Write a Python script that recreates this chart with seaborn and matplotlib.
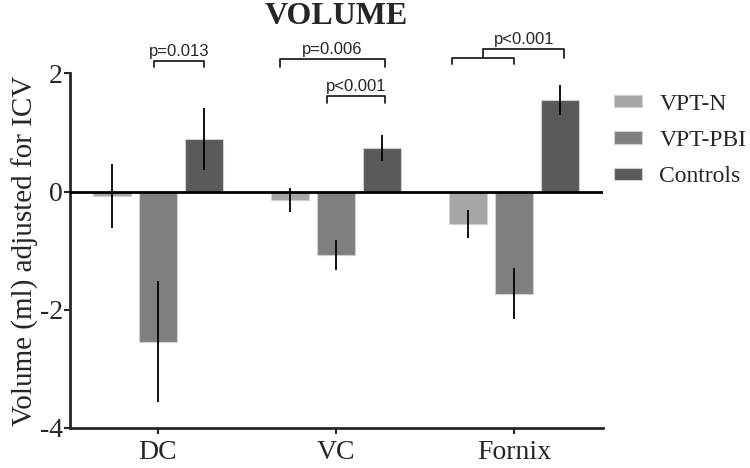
import pandas as pd
import matplotlib.pyplot as plt
import seaborn as sns

sns.set_style('ticks')
plt.rcParams['font.family'] = ['Liberation Serif', 'DejaVu Serif']

# values
regions = ["DC", "VC", "Fornix"]
groups = ["VPT-N", "VPT-PBI", "Controls"]
vpt_n = [-0.07, -0.14, -0.55]
vpt_pbi = [-2.54, -1.07, -1.73]
controls = [0.89, 0.74, 1.55]
err_vpt_n = [0.54, 0.20, 0.24]
err_vpt_pbi = [1.02, 0.26, 0.43]
err_controls = [0.53, 0.22, 0.26]
colors = ['#a6a6a6', '#7f7f7f', '#5a5a5a']

means = {"VPT-N": vpt_n, "VPT-PBI": vpt_pbi, "Controls": controls}
errs = {"VPT-N": err_vpt_n, "VPT-PBI": err_vpt_pbi, "Controls": err_controls}

rows = []
for g in groups:
    for r, v in zip(regions, means[g]):
        rows.append({"region": r, "group": g, "value": v})
df = pd.DataFrame(rows)

fig = plt.figure(figsize=(7.5, 4.68), dpi=100)
ax = fig.add_axes([0.0933, 0.0855, 0.711, 0.7575])

sns.barplot(data=df, x="region", y="value", hue="group", hue_order=groups,
            order=regions, palette=colors, width=0.78, gap=0.18,
            errorbar=None, edgecolor='#d0d0d0', linewidth=0.8, ax=ax)

# error bars at the bar centres
for cont, g in zip(ax.containers, groups):
    xs = [p.get_x() + p.get_width() / 2 for p in cont.patches]
    ax.errorbar(xs, means[g], yerr=errs[g], fmt='none', ecolor='black',
                elinewidth=1.3, capsize=0, zorder=5)

ax.axhline(0, color='black', lw=2, zorder=4)
ax.set_xlim(-0.494, 2.5)
ax.set_ylim(-4, 2)
ax.set_yticks([2, 0, -2, -4])
ax.set_yticklabels(['2', '0', '-2', '-4'])
ax.set_xlabel('')
ax.set_ylabel('Volume (ml) adjusted for ICV', fontsize=21, labelpad=1)
ax.tick_params(axis='both', labelsize=20, length=4, width=1.5)
ax.tick_params(axis='y', pad=1)
ax.tick_params(axis='x', pad=5)
sns.despine(ax=ax)
for s in ['left', 'bottom']:
    ax.spines[s].set_linewidth(2)

fig.text(0.448, 0.965, 'VOLUME', ha='center', va='center', fontsize=23,
         fontweight='bold')

ax.legend(loc='upper left', bbox_to_anchor=(0.819, 0.8),
          bbox_transform=fig.transFigure, frameon=False, fontsize=17,
          handlelength=1.19, handleheight=0.42, handletextpad=0.72,
          labelspacing=0.65, borderpad=0, borderaxespad=0)

# significance brackets
pfont = dict(fontsize=12, family=['Liberation Sans Narrow', 'Liberation Sans', 'DejaVu Sans'],
             ha='center', va='bottom')
lk = dict(color='#222222', lw=1.3, clip_on=False)


def bracket(x1, x2, y, leg, text=None):
    ax.plot([x1, x1, x2, x2], [y - leg, y, y, y - leg], **lk)
    if text:
        ax.text((x1 + x2) / 2, y + 0.03, text, clip_on=False, **pfont)


bracket(-0.02, 0.26, 2.21, 0.10, 'p=0.013')
bracket(0.685, 1.275, 2.245, 0.13, 'p=0.006')
bracket(0.95, 1.275, 1.62, 0.12, 'p<0.001')
bracket(1.652, 2.0, 2.26, 0.10)
bracket(1.826, 2.281, 2.41, 0.15, 'p<0.001')

fig.savefig('out.png', dpi=100)
